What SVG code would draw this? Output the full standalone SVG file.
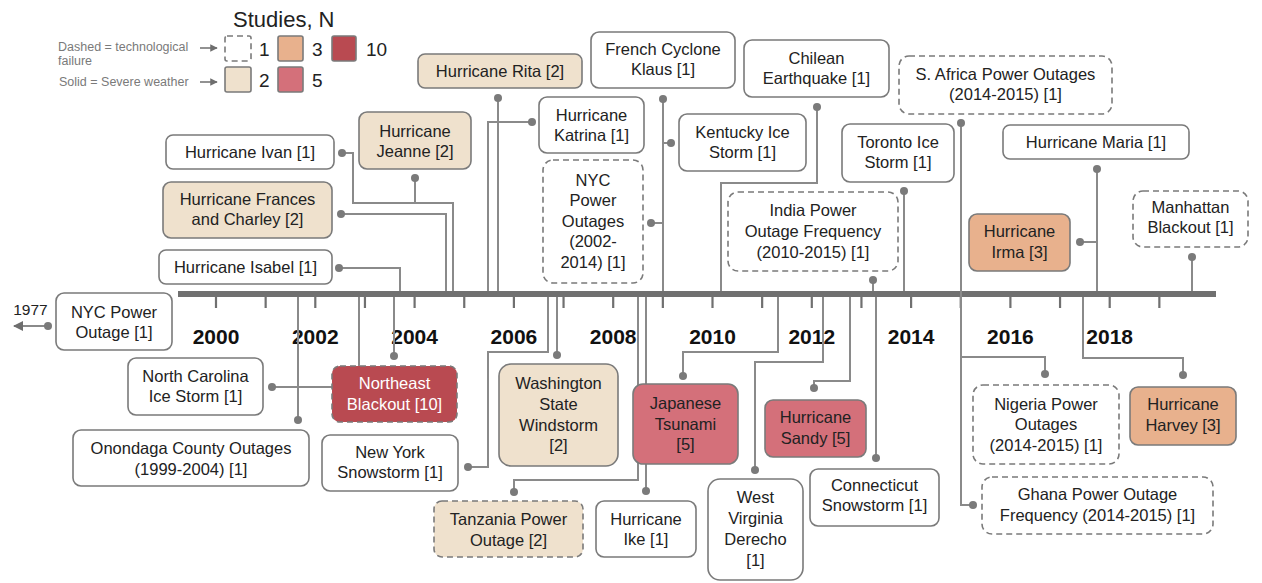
<svg xmlns="http://www.w3.org/2000/svg" width="1262" height="583" viewBox="0 0 1262 583">
<defs>
<marker id="ah" viewBox="0 0 10 10" refX="9" refY="5" markerWidth="5" markerHeight="5" orient="auto-start-reverse"><path d="M0,0 L10,5 L0,10 z" fill="#6e6e6e"/></marker>
<style>
text{font-family:"Liberation Sans",Arial,sans-serif;font-size:16.5px;fill:#222;text-anchor:middle}
.box{fill:#fff;stroke:#7a7a7a;stroke-width:1.6}
.d{stroke-dasharray:6 4}
.b{fill:#EFE1CD}
.o{fill:#E8B18D}
.p{fill:#D4707A}
.r{fill:#B94A51}
.w{fill:#fff}
.yr{font-weight:bold;font-size:21px;fill:#111}
.lg{font-size:12.5px;fill:#7a7a7a;text-anchor:start}
.ln{font-size:19px;fill:#222;text-anchor:start}
#connectors path{fill:none;stroke:#8a8a8a;stroke-width:2}
#connectors circle{fill:#7a7a7a}
</style>
</defs>
<rect width="1262" height="583" fill="#fff"/>

<g id="legend">
<text x="233" y="27" style="font-size:22px;text-anchor:start">Studies, N</text>
<text class="lg" x="58" y="51">Dashed = technological</text>
<text class="lg" x="58" y="65">failure</text>
<text class="lg" x="59" y="86">Solid = Severe weather</text>
<line x1="200" y1="48" x2="217" y2="48" stroke="#6e6e6e" stroke-width="1.5" marker-end="url(#ah)"/>
<line x1="200" y1="82" x2="217" y2="82" stroke="#6e6e6e" stroke-width="1.5" marker-end="url(#ah)"/>
<rect class="box d" x="225" y="36" width="26" height="25" rx="2"/>
<text class="ln" x="259" y="56">1</text>
<rect class="box o" x="278" y="36" width="25" height="25" rx="2"/>
<text class="ln" x="312" y="56">3</text>
<rect class="box r" x="332" y="36" width="24" height="25" rx="2"/>
<text class="ln" x="366" y="56">10</text>
<rect class="box b" x="225" y="67" width="26" height="25" rx="2"/>
<text class="ln" x="259" y="87">2</text>
<rect class="box p" x="278" y="67" width="25" height="25" rx="2"/>
<text class="ln" x="312" y="87">5</text>
</g>

<g id="timeline">
<rect x="178" y="291" width="1038" height="6" fill="#707070"/>
<path d="M216,297V308M265.65,297V308M315.3,297V308M364.95,297V308M414.6,297V308M464.25,297V308M513.9,297V308M563.55,297V308M613.2,297V308M662.85,297V308M712.5,297V308M762.15,297V308M811.8,297V308M861.45,297V308M911.1,297V308M960.75,297V308M1010.4,297V308M1060.05,297V308M1109.7,297V308M1159.35,297V308" stroke="#707070" stroke-width="2.2" fill="none"/>
<text class="yr" x="216" y="344">2000</text>
<text class="yr" x="315.3" y="344">2002</text>
<text class="yr" x="414.6" y="344">2004</text>
<text class="yr" x="513.9" y="344">2006</text>
<text class="yr" x="613.2" y="344">2008</text>
<text class="yr" x="712.5" y="344">2010</text>
<text class="yr" x="811.8" y="344">2012</text>
<text class="yr" x="911.1" y="344">2014</text>
<text class="yr" x="1010.4" y="344">2016</text>
<text class="yr" x="1109.7" y="344">2018</text>
</g>

<g id="connectors">
<path d="M342,153H353V203H453V291"/>
<path d="M415,178V203"/>
<path d="M341,214H446V291"/>
<path d="M339,268H400V291"/>
<path d="M498,98V291"/>
<path d="M532,122H488V291"/>
<path d="M651,223H663"/>
<path d="M663,99V291"/>
<path d="M671,143H663"/>
<path d="M817,107V183H721V291"/>
<path d="M904,191V291"/>
<path d="M873,280V291"/>
<path d="M961,123V505H973"/>
<path d="M961,357H1045V374"/>
<path d="M1097,169V291"/>
<path d="M1080,242H1097"/>
<path d="M1192,257V291"/>
<path d="M1083,297V358H1183V375"/>
<path d="M850,297V381H814V388"/>
<path d="M876,297V458"/>
<path d="M823,297V362H755V470"/>
<path d="M778,297V352H683V376"/>
<path d="M646,297V491"/>
<path d="M638,297V480H514V492"/>
<path d="M557,297V355"/>
<path d="M548,297V352H488V467H468"/>
<path d="M394,297V356"/>
<path d="M359,297V387H272"/>
<path d="M298,297V420"/>
<path d="M48,326H14" marker-end="url(#ah)" stroke="#7a7a7a"/>
<circle cx="342" cy="153" r="4"/>
<circle cx="415" cy="178" r="4"/>
<circle cx="341" cy="214" r="4"/>
<circle cx="339" cy="268" r="4"/>
<circle cx="498" cy="98" r="4"/>
<circle cx="532" cy="122" r="4"/>
<circle cx="651" cy="223" r="4"/>
<circle cx="663" cy="99" r="4"/>
<circle cx="671" cy="143" r="4"/>
<circle cx="817" cy="107" r="4"/>
<circle cx="904" cy="191" r="4"/>
<circle cx="873" cy="280" r="4"/>
<circle cx="961" cy="123" r="4"/>
<circle cx="973" cy="505" r="4"/>
<circle cx="1045" cy="374" r="4"/>
<circle cx="1097" cy="169" r="4"/>
<circle cx="1080" cy="242" r="4"/>
<circle cx="1192" cy="257" r="4"/>
<circle cx="1183" cy="375" r="4"/>
<circle cx="814" cy="388" r="4"/>
<circle cx="876" cy="458" r="4"/>
<circle cx="755" cy="470" r="4"/>
<circle cx="683" cy="376" r="4"/>
<circle cx="646" cy="491" r="4"/>
<circle cx="514" cy="492" r="4"/>
<circle cx="557" cy="355" r="4"/>
<circle cx="468" cy="467" r="4"/>
<circle cx="394" cy="356" r="4"/>
<circle cx="272" cy="387" r="4"/>
<circle cx="298" cy="420" r="4"/>
<circle cx="48" cy="326" r="4"/>
</g>

<g id="n-ivan"><rect class="box" x="166" y="135" width="168" height="34" rx="7"/><text x="250" y="158">Hurricane Ivan [1]</text></g>
<g id="n-jeanne"><rect class="box b" x="359" y="112" width="112" height="57" rx="8"/><text x="415" y="137">Hurricane</text><text x="415" y="157">Jeanne [2]</text></g>
<g id="n-frances"><rect class="box b" x="163" y="182" width="169" height="56" rx="8"/><text x="247.5" y="205">Hurricane Frances</text><text x="247.5" y="225">and Charley [2]</text></g>
<g id="n-isabel"><rect class="box" x="159" y="250" width="173" height="34" rx="7"/><text x="245.5" y="273">Hurricane Isabel [1]</text></g>
<g id="n-rita"><rect class="box b" x="418" y="54" width="164" height="34" rx="7"/><text x="500" y="77">Hurricane Rita [2]</text></g>
<g id="n-katrina"><rect class="box" x="539" y="97" width="105" height="56" rx="8"/><text x="591.5" y="121">Hurricane</text><text x="591.5" y="141">Katrina [1]</text></g>
<g id="n-nyc-outages"><rect class="box d" x="543" y="160" width="100" height="123" rx="10"/><text x="593" y="186">NYC</text><text x="593" y="206">Power</text><text x="593" y="227">Outages</text><text x="593" y="247">(2002-</text><text x="593" y="268">2014) [1]</text></g>
<g id="n-klaus"><rect class="box" x="591" y="32" width="144" height="56" rx="8"/><text x="663" y="55">French Cyclone</text><text x="663" y="75">Klaus [1]</text></g>
<g id="n-kentucky"><rect class="box" x="679" y="114" width="127" height="57" rx="8"/><text x="742.5" y="138">Kentucky Ice</text><text x="742.5" y="158">Storm [1]</text></g>
<g id="n-chilean"><rect class="box" x="744" y="40" width="145" height="57" rx="8"/><text x="816.5" y="64">Chilean</text><text x="816.5" y="84">Earthquake [1]</text></g>
<g id="n-india"><rect class="box d" x="728" y="192" width="170" height="79" rx="10"/><text x="813" y="216">India Power</text><text x="813" y="237">Outage Frequency</text><text x="813" y="258">(2010-2015) [1]</text></g>
<g id="n-toronto"><rect class="box" x="842" y="124" width="112" height="58" rx="8"/><text x="898" y="148">Toronto Ice</text><text x="898" y="168">Storm [1]</text></g>
<g id="n-safrica"><rect class="box d" x="899" y="56" width="213" height="58" rx="10"/><text x="1005.5" y="80">S. Africa Power Outages</text><text x="1005.5" y="100">(2014-2015) [1]</text></g>
<g id="n-maria"><rect class="box" x="1003" y="125" width="186" height="34" rx="7"/><text x="1096" y="148">Hurricane Maria [1]</text></g>
<g id="n-irma"><rect class="box o" x="969" y="214" width="101" height="57" rx="8"/><text x="1019.5" y="237">Hurricane</text><text x="1019.5" y="258">Irma [3]</text></g>
<g id="n-manhattan"><rect class="box d" x="1133" y="191" width="115" height="56" rx="10"/><text x="1190.5" y="213">Manhattan</text><text x="1190.5" y="233">Blackout [1]</text></g>
<g id="n-nyc-1977"><rect class="box" x="56" y="293" width="116" height="57" rx="8"/><text x="114" y="318">NYC Power</text><text x="114" y="338">Outage [1]</text><text x="30.5" y="315" style="font-size:15.5px">1977</text></g>
<g id="n-nc"><rect class="box" x="128" y="358" width="135" height="57" rx="8"/><text x="195.5" y="382">North Carolina</text><text x="195.5" y="402">Ice Storm [1]</text></g>
<g id="n-onondaga"><rect class="box" x="73" y="430" width="236" height="56" rx="8"/><text x="191" y="454">Onondaga County Outages</text><text x="191" y="475">(1999-2004) [1]</text></g>
<g id="n-northeast"><rect class="box d r" x="332" y="366" width="125" height="56" rx="8" stroke="#9a3a40"/><text class="w" x="394.5" y="389">Northeast</text><text class="w" x="394.5" y="410">Blackout [10]</text></g>
<g id="n-newyork"><rect class="box" x="322" y="435" width="136" height="56" rx="8"/><text x="390" y="458">New York</text><text x="390" y="478">Snowstorm [1]</text></g>
<g id="n-washington"><rect class="box b" x="499" y="364" width="119" height="102" rx="12"/><text x="558.5" y="389">Washington</text><text x="558.5" y="410">State</text><text x="558.5" y="431">Windstorm</text><text x="558.5" y="451">[2]</text></g>
<g id="n-tanzania"><rect class="box d b" x="434" y="501" width="149" height="56" rx="8"/><text x="508.5" y="525">Tanzania Power</text><text x="508.5" y="546">Outage [2]</text></g>
<g id="n-japanese"><rect class="box p" x="633" y="384" width="105" height="80" rx="10"/><text x="685.5" y="409">Japanese</text><text x="685.5" y="430">Tsunami</text><text x="685.5" y="450">[5]</text></g>
<g id="n-ike"><rect class="box" x="596" y="501" width="100" height="56" rx="8"/><text x="646" y="525">Hurricane</text><text x="646" y="545">Ike [1]</text></g>
<g id="n-derecho"><rect class="box" x="708" y="479" width="95" height="101" rx="12"/><text x="755.5" y="503">West</text><text x="755.5" y="524">Virginia</text><text x="755.5" y="545">Derecho</text><text x="755.5" y="566">[1]</text></g>
<g id="n-sandy"><rect class="box p" x="765" y="400" width="101" height="57" rx="8"/><text x="815.5" y="423">Hurricane</text><text x="815.5" y="444">Sandy [5]</text></g>
<g id="n-connecticut"><rect class="box" x="810" y="469" width="129" height="57" rx="8"/><text x="874.5" y="491">Connecticut</text><text x="874.5" y="511">Snowstorm [1]</text></g>
<g id="n-nigeria"><rect class="box d" x="973" y="385" width="146" height="79" rx="10"/><text x="1046" y="410">Nigeria Power</text><text x="1046" y="430">Outages</text><text x="1046" y="451">(2014-2015) [1]</text></g>
<g id="n-harvey"><rect class="box o" x="1130" y="387" width="106" height="58" rx="8"/><text x="1183" y="410">Hurricane</text><text x="1183" y="431">Harvey [3]</text></g>
<g id="n-ghana"><rect class="box d" x="982" y="477" width="231" height="57" rx="10"/><text x="1097.5" y="500">Ghana Power Outage</text><text x="1097.5" y="521">Frequency (2014-2015) [1]</text></g>
</svg>
